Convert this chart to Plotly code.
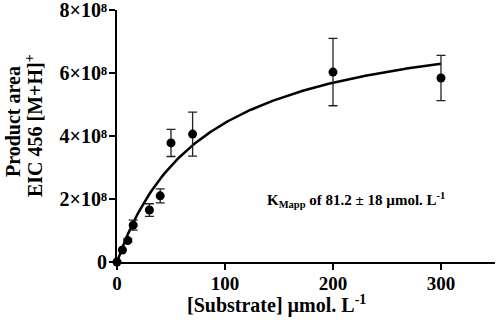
import plotly.graph_objects as go

substrate = [0, 5, 10, 15, 30, 40, 50, 70, 200, 300]
product = [0.0, 0.38e8, 0.68e8, 1.17e8, 1.65e8, 2.1e8, 3.78e8, 4.06e8, 6.03e8, 5.84e8]
error = [0, 0, 0.05e8, 0.16e8, 0.2e8, 0.22e8, 0.43e8, 0.7e8, 1.07e8, 0.72e8]

KM = 81.2
VMAX = 8.0e8
fit_x = [i * 2 for i in range(151)]
fit_y = [VMAX * s / (KM + s) for s in fit_x]

y_ticks = [0, 2e8, 4e8, 6e8, 8e8]
y_ticktext = ["0", "2×10⁸", "4×10⁸", "6×10⁸", "8×10⁸"]
x_ticks = [0, 100, 200, 300]

FONT = "Liberation Serif"
L, R, T, B = 117, 3, 10, 58
PW = 498 - L - R
PH = 320 - T - B

fig = go.Figure()
fig.add_trace(go.Scatter(x=fit_x, y=fit_y, mode="lines",
                         line=dict(color="black", width=2.5), hoverinfo="skip", cliponaxis=False))
fig.add_trace(go.Scatter(x=substrate, y=product, mode="markers",
                         marker=dict(color="black", size=9),
                         error_y=dict(type="data", array=error, visible=True,
                                      color="#222", thickness=1.3, width=4.5),
                         cliponaxis=False))

fig.update_layout(
    width=498, height=320,
    margin=dict(l=L, r=R, t=T, b=B),
    plot_bgcolor="white", paper_bgcolor="white",
    showlegend=False,
    font=dict(family=FONT, color="black"),
    xaxis=dict(range=[0, 350], tickvals=x_ticks, showgrid=False, zeroline=False,
               showline=True, linecolor="black", linewidth=2, automargin=False,
               ticks="outside", ticklen=6, tickwidth=2, tickcolor="black",
               ticklabeloverflow="allow", ticklabelstandoff=-3,
               tickfont=dict(family=FONT, size=19, weight="bold", color="black")),
    yaxis=dict(range=[0, 8e8], tickvals=y_ticks, ticktext=y_ticktext, showgrid=False,
               zeroline=False, showline=True, linecolor="black", linewidth=2, automargin=False,
               ticks="outside", ticklen=6, tickwidth=2, tickcolor="black",
               ticklabeloverflow="allow", ticklabelstandoff=-2,
               tickfont=dict(family=FONT, size=20, weight="bold", color="black")),
    annotations=[
        dict(text="Product area", xref="paper", yref="paper",
             x=(13 - L) / PW, y=(262 - 122) / PH, xanchor="center", yanchor="middle", textangle=-90,
             showarrow=False, font=dict(family=FONT, size=20, weight="bold", color="black")),
        dict(text="EIC 456 [M+H]<sup>+</sup>", xref="paper", yref="paper",
             x=(34 - L) / PW, y=(262 - 126) / PH, xanchor="center", yanchor="middle", textangle=-90,
             showarrow=False, font=dict(family=FONT, size=20, weight="bold", color="black")),
        dict(text="[Substrate] µmol. L<sup>-1</sup>", xref="paper", yref="paper",
             x=(276 - L) / PW, y=(262 - 304) / PH, xanchor="center", yanchor="middle",
             showarrow=False, font=dict(family=FONT, size=20, weight="bold", color="black")),
        dict(text="K<sub>Mapp</sub> of 81.2 ± 18 µmol. L<sup>-1</sup>", xref="x", yref="y",
             x=221, y=1.97e8, xanchor="center", yanchor="middle",
             showarrow=False, font=dict(family=FONT, size=15, weight="bold", color="black")),
    ],
)

fig.write_html("out.html", config={"displayModeBar": False},
               post_script="document.body.style.margin='0';")
